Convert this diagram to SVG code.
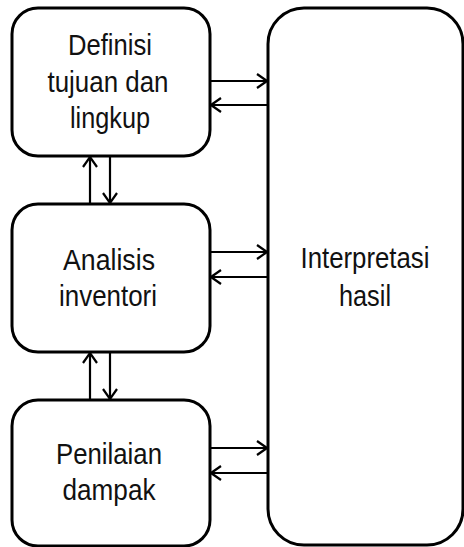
<svg xmlns="http://www.w3.org/2000/svg" width="464" height="547" viewBox="0 0 464 547">
<defs>
<style>
.box{fill:#fff;stroke:#000;stroke-width:3}
.t{font-family:"Liberation Sans",Arial,sans-serif;font-size:30px;fill:#111;text-anchor:middle}
.c{stroke:#000;stroke-width:2.2;fill:none}
</style>
<marker id="ah" viewBox="0 0 12 16" refX="11" refY="8" markerWidth="12" markerHeight="16" markerUnits="userSpaceOnUse" orient="auto">
<path d="M1,1 L11,8 L1,15" fill="none" stroke="#000" stroke-width="2.2"/>
</marker>
</defs>
<rect width="464" height="547" fill="#fff"/>
<g id="n-interpretasi">
<rect class="box" x="268" y="8" width="195" height="537" rx="36"/>
<text class="t" x="365" y="268" textLength="129" lengthAdjust="spacingAndGlyphs">Interpretasi</text>
<text class="t" x="365" y="306" textLength="52" lengthAdjust="spacingAndGlyphs">hasil</text>
</g>
<g id="n-definisi">
<rect class="box" x="12" y="8" width="198" height="148" rx="26"/>
<text class="t" x="110" y="55" textLength="84" lengthAdjust="spacingAndGlyphs">Definisi</text>
<text class="t" x="108" y="92" textLength="121" lengthAdjust="spacingAndGlyphs">tujuan dan</text>
<text class="t" x="110" y="128" textLength="80" lengthAdjust="spacingAndGlyphs">lingkup</text>
</g>
<g id="n-analisis">
<rect class="box" x="12" y="204" width="198" height="148" rx="26"/>
<text class="t" x="109" y="270" textLength="92" lengthAdjust="spacingAndGlyphs">Analisis</text>
<text class="t" x="108" y="306" textLength="98" lengthAdjust="spacingAndGlyphs">inventori</text>
</g>
<g id="n-penilaian">
<rect class="box" x="12" y="400" width="198" height="146" rx="26"/>
<text class="t" x="109" y="464" textLength="106" lengthAdjust="spacingAndGlyphs">Penilaian</text>
<text class="t" x="109" y="500" textLength="93" lengthAdjust="spacingAndGlyphs">dampak</text>
</g>
<g id="connectors" class="c">
<line class="c" x1="210" y1="81" x2="267" y2="81" marker-end="url(#ah)"/>
<line class="c" x1="267" y1="105" x2="211" y2="105" marker-end="url(#ah)"/>
<line class="c" x1="210" y1="252" x2="267" y2="252" marker-end="url(#ah)"/>
<line class="c" x1="267" y1="277" x2="211" y2="277" marker-end="url(#ah)"/>
<line class="c" x1="210" y1="448" x2="267" y2="448" marker-end="url(#ah)"/>
<line class="c" x1="267" y1="473" x2="211" y2="473" marker-end="url(#ah)"/>
<line class="c" x1="90" y1="203" x2="90" y2="157" marker-end="url(#ah)"/>
<line class="c" x1="110" y1="157" x2="110" y2="203" marker-end="url(#ah)"/>
<line class="c" x1="90" y1="399" x2="90" y2="353" marker-end="url(#ah)"/>
<line class="c" x1="110" y1="353" x2="110" y2="399" marker-end="url(#ah)"/>
</g>
</svg>
